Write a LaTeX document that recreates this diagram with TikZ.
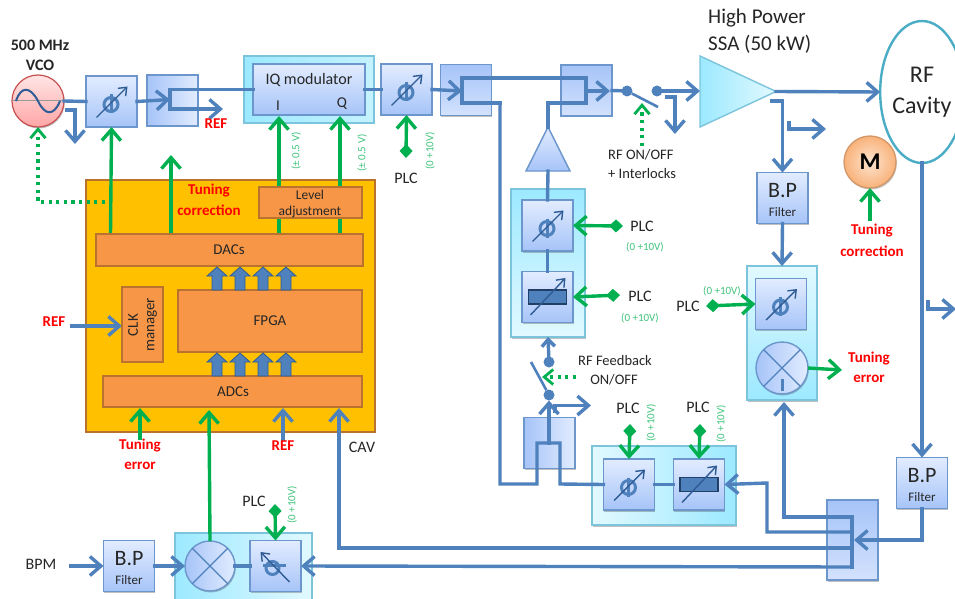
\documentclass[tikz,border=0pt]{standalone}
\usepackage{fontspec}
\setmainfont{Carlito}
\usetikzlibrary{arrows.meta,shadows,calc,shapes.geometric}
\definecolor{lblue}{HTML}{4F81BD}
\definecolor{dblue}{HTML}{2F5C94}
\definecolor{lgreen}{HTML}{00B050}
\definecolor{boxline}{HTML}{6C96CC}
\definecolor{boxlight}{HTML}{E2ECFF}
\definecolor{boxdark}{HTML}{A6C4F8}
\definecolor{panlight}{HTML}{E2F9FF}
\definecolor{pandark}{HTML}{9CE9FF}
\definecolor{panline}{HTML}{7CC4DC}
\definecolor{orgfill}{HTML}{F79646}
\definecolor{orgline}{HTML}{B9732F}
\definecolor{amber}{HTML}{FFC000}
\definecolor{txt}{HTML}{262626}
\definecolor{motin}{HTML}{FCE4CF}
\definecolor{motout}{HTML}{F9B27A}
\newcommand{\fsz}[1]{\fontsize{#1}{#1}\selectfont}
\tikzset{
  softshadow/.style={drop shadow={shadow xshift=0.8pt,shadow yshift=-1.5pt,opacity=.35,fill=black!70}},
  devbox/.style={draw=boxline,line width=1.4pt,minimum width=51pt,minimum height=51pt,inner sep=0pt,outer sep=0pt,
     top color=boxlight,bottom color=boxdark,softshadow},
  cplbox/.style={devbox,top color=boxdark,bottom color=boxlight!75!boxdark},
  sidebox/.style={devbox,left color=boxdark,right color=boxlight},
  panelbox/.style={draw=panline,line width=1.4pt,inner sep=0pt,outer sep=0pt,softshadow},
  orgbox/.style={draw=orgline,fill=orgfill,line width=1.8pt,inner sep=0pt,outer sep=0pt,text=txt,align=center},
  mixer/.style={circle,draw=boxline,line width=1.4pt,inner sep=0pt,outer sep=0pt,left color=boxdark,right color=boxlight,softshadow},
  bline/.style={draw=lblue,line width=3.4pt,line join=miter,line cap=rect},
  barrow/.style={bline,-{Straight Barb[length=11pt,width=19pt]}},
  gline/.style={draw=lgreen,line width=3.4pt},
  garrow/.style={gline,-{Straight Barb[length=11pt,width=19pt]}},
  gplc/.style={gline,{Diamond[length=14pt,width=13pt]}-{Straight Barb[length=11pt,width=19pt]}},
  gdots/.style={draw=lgreen,line width=3.2pt,dash pattern=on 3.2pt off 4.4pt,-{Straight Barb[length=9pt,width=15pt,line width=2.8pt]}},
  swdot/.style={circle,fill=lblue,minimum size=11pt,inner sep=0pt,outer sep=0pt},
  lab/.style={text=txt,inner sep=0pt,font=\fsz{16},align=center},
  smlab/.style={text=txt,inner sep=0pt,font=\fsz{14.5},align=center},
  redlab/.style={text=red,inner sep=0pt,font=\fsz{15}\bfseries,align=center},
  vlab/.style={text=lgreen!75,inner sep=0pt,font=\fsz{11}},
  fp/.style={draw=dblue,line width=1.4pt,-{Straight Barb[length=7pt,width=11pt]}},
  fatup/.style={draw=dblue,fill=lblue,line width=.8pt},
  bpbig/.style={text=txt,inner sep=0pt,font=\fsz{22}},
  bpsmall/.style={text=txt,inner sep=0pt,font=\fsz{13}}
}
\newcommand{\phaseicon}[1]{\begin{scope}[shift={(#1)}]
  \draw[lblue,line width=3pt] (-.5,3) circle [x radius=7,y radius=7];
  \draw[lblue,line width=3pt] (-.5,-7) -- (-.5,12);
  \draw[fp] (-15,16) -- (16,-15);
\end{scope}}
\newcommand{\phaseiconb}[1]{\begin{scope}[shift={(#1)}]
  \draw[lblue,line width=3pt] (-3,2) circle [x radius=6.5,y radius=6.5];
  \draw[lblue,line width=3pt] (-13,-1) -- (10,-1);
  \draw[fp] (14,16) -- (-15,-14);
\end{scope}}
\newcommand{\atticon}[1]{\begin{scope}[shift={(#1)}]
  \draw[draw=dblue!70!black,fill=lblue,line width=1.2pt] (-19,-7) rectangle (19,7);
  \draw[fp] (-17,18) -- (18,-19);
\end{scope}}
\newcommand{\fatarrow}[1]{\begin{scope}[shift={(#1)}]
  \filldraw[fatup] (-5,0) -- (-5,-14) -- (-10,-14) -- (0,-23) -- (10,-14) -- (5,-14) -- (5,0) -- cycle;
\end{scope}}
\begin{document}
\begin{tikzpicture}[x=1pt,y=-1pt]
\useasboundingbox (0,0) rectangle (955,599);
\clip (0,0) rectangle (955,599);
\fill[white] (0,0) rectangle (955,599);

% panels
\node[panelbox,minimum width=130pt,minimum height=67pt,left color=pandark,right color=panlight!60!pandark] (iqpanel) at (309,89.5) {};
\node[panelbox,minimum width=74pt,minimum height=148pt,top color=pandark,bottom color=panlight] (stackpanel) at (548,263) {};
\node[panelbox,minimum width=70pt,minimum height=134pt,top color=panlight,bottom color=pandark] (rightpanel) at (782,333) {};
\node[panelbox,minimum width=144pt,minimum height=79pt,left color=panlight,right color=pandark] (midpanel) at (664,485.5) {};
\node[panelbox,minimum width=137pt,minimum height=75pt,left color=pandark,right color=panlight] (botpanel) at (243.5,570.5) {};

% FPGA carrier
\node[draw=orgline,fill=amber,inner sep=0pt,outer sep=0pt,line width=1.8pt,minimum width=289pt,minimum height=252pt] (carrier) at (230.5,306) {};

% devices
\node[devbox] (ph1) at (111.5,101.5) {};
\node[sidebox] (cp1) at (172.5,100.5) {};
\node[devbox,minimum width=112pt] (iq) at (309,89.5) {};
\node[devbox] (ph2) at (406.5,89.5) {};
\node[cplbox] (cp2) at (466,90) {};
\node[cplbox] (cp3) at (586.5,90.5) {};
\node[devbox] (ph3) at (547.5,225.5) {};
\node[devbox] (att1) at (547.5,297) {};
\node[sidebox] (cp4) at (549.5,443) {};
\node[devbox] (ph4) at (629,484.5) {};
\node[devbox] (att2) at (699,484.5) {};
\node[devbox] (bp1) at (782.5,198) {};
\node[devbox] (ph5) at (781,304) {};
\node[mixer,minimum size=52pt] (mx2) at (782,368) {};
\node[devbox] (bp2) at (922,483) {};
\node[cplbox,minimum height=80pt] (split) at (852.5,540) {};
\node[devbox] (bp3) at (129,566) {};
\node[mixer,minimum size=50pt] (mx1) at (210,566) {};
\node[devbox] (ph6) at (275.5,566) {};
\draw[lblue,line width=1.3pt] (mx1.north west) -- (mx1.south east) (mx1.north east) -- (mx1.south west);
\draw[lblue,line width=1.3pt] (mx2.north west) -- (mx2.center) -- (mx2.north east) (mx2.center) -- (mx2.south west) (mx2.center) -- (mx2.south east);
\draw[lblue,line width=3pt] (mx2.center) ++(0,11) -- ++(0,12);

% amplifiers, cavity, VCO, motor
\draw[draw=panline,line width=1.4pt,left color=pandark,right color=panlight] (700,56) -- (776,91.5) coordinate (ampout) -- (700,127) -- cycle;
\coordinate (ampin) at (700,91);
\draw[draw=boxline,line width=1.4pt,top color=boxlight,bottom color=boxdark] (548,127) coordinate (drvout) -- (570,171) -- (526,171) -- cycle;
\coordinate (drvin) at (548,171);
\node[ellipse,draw={rgb,255:red,75;green,172;blue,198},fill=white,line width=2.4pt,minimum width=76pt,minimum height=142pt,inner sep=0pt,outer sep=0pt,text=txt,font=\fsz{24},align=center] (cav) at (922,92) {RF\\[7pt]Cavity};
\node[circle,draw=motout!85!black,inner color=motin,outer color=motout,line width=1.3pt,minimum size=52pt,inner sep=0pt,outer sep=0pt,font=\fsz{24}\bfseries,softshadow] (mot) at (870,162) {M};
\node[circle,draw={rgb,255:red,200;green,80;blue,80},line width=1.2pt,top color=red!10,bottom color=red!35,minimum size=52pt,inner sep=0pt,outer sep=0pt,softshadow] (vco) at (38,101) {};
\draw[gray!80,line width=1pt] (vco.west) -- (vco.east);
\draw[dblue,line width=2pt] (16,101) .. controls (21,86) and (30,86) .. (38,101) .. controls (45,116) and (54,116) .. (60,101);

% icons
\phaseicon{ph1.center}
\phaseicon{ph2.center}
\phaseicon{ph3.center}
\phaseicon{ph4.center}
\phaseicon{ph5.center}
\phaseiconb{ph6.center}
\atticon{att1.center}
\atticon{att2.center}

% blue RF path
\coordinate (vcoT) at (67,110);
\coordinate (vcoTe) at (75,144);
\draw[bline] (vco.east) -- (ph1.west);
\draw[barrow] (vcoT) -| (vcoTe);
\draw[barrow] (ph1.east) -- (170,99.5) coordinate (c1);
\draw[bline] (170,109) |- (iq.west);
\coordinate (refT) at (223,109);
\draw[barrow] (170,109) -- (refT);
\draw[bline] (iq.east) -- (ph2.west);
\draw[barrow] (ph2.east) -- (462,91);
\draw[bline] (500,103) -- (462,103) -- (462,78) -- (586,78) -- (586,103) -- (548,103) -- (drvout);
\draw[bline] (500,103) -- (500,484) -- (537,484) -- (537,443) -- (560,443) -- (560,484) -- (ph4.west);
\draw[barrow] (586,91) -- (610,91);
\coordinate (swa) at (627,91);
\coordinate (swb) at (657,91);
\node[swdot] (s1a) at (swa) {};
\node[swdot] (s1b) at (swb) {};
\draw[bline] (cp3.east) -- (s1a);
\draw[draw=lblue,line width=2.6pt] (s1a) -- (658,107);
\draw[barrow] (s1b) -- (ampin);
\coordinate (sT) at (667,97);
\draw[barrow] (sT) -| (675,134);
\draw[barrow] (ampout) -- (cav.west);
\draw[barrow] (772,101) -| (bp1.north);
\coordinate (sA) at (789,123);
\draw[barrow] (sA) |- (826,129);
\draw[barrow] (bp1.south) -- (rightpanel.north);
\draw[bline] (drvin) -- (ph3.north);
\draw[bline] (ph3.south) -- (att1.north);
\draw[bline] (ph4.east) -- (att2.west);
\draw[barrow] (cav.south) -- (bp2.north);
\draw[barrow] (928,302) |- (956,309);

% switch 2 + coupler
\node[swdot] (s2a) at (549,362) {};
\node[swdot] (s2b) at (549,395) {};
\draw[barrow,-{Straight Barb[length=7pt,width=13pt]}] (s2a) -- (stackpanel.south);
\draw[draw=lblue,line width=2.6pt] (s2b) -- (531,362);
\draw[barrow] (549,443) -- (s2b);
\draw[barrow] (555,411) |- (591,405.5);

% splitter network
\draw[bline] (852,517) -- (852,567);
\draw[barrow] (852,517) -- (784,517) -- (784,402);
\draw[barrow] (852,532) -- (767,532) -- (767,483) -- (att2.east);
\draw[barrow] (852,548) -- (339,548) -- (339,408);
\draw[barrow] (852,567) -- (ph6.east);
\draw[barrow] (bp2.south) |- (854,540);
\draw[barrow] (71,566) coordinate (bpm) -- (bp3.west);
\draw[barrow] (bp3.east) -- (mx1.west);
\draw[bline] (mx1.east) -- (ph6.west);

% green signals
\draw[garrow] (110.5,234) -- (ph1.south);
\draw[garrow] (171,234) -- (171,155);
\draw[garrow] (279,234) -- (279,116);
\draw[garrow] (340,234) -- (340,116);
\draw[gplc] (406,158) -- (ph2.south);
\draw[gdots] (105,202) -| (vco.south);
\draw[gdots] (642,146) -- (642,103);
\draw[gdots] (576,377) -- (542,377);
\draw[gplc] (623,226) -- (ph3.east);
\draw[gplc] (620,295) -- (att1.east);
\draw[gplc] (706,306) -- (ph5.west);
\draw[gplc] (630,424) -- (ph4.north);
\draw[gplc] (700,424) -- (att2.north);
\draw[gplc] (275,504) -- (ph6.north);
\draw[garrow] (mx1.north) -- (209,410);
\draw[garrow] (mx2.east) -- (842,370);
\draw[garrow] (870,221) -- (mot.south);
\draw[garrow] (140,440) -- (140,408);
\draw[barrow] (72,326) -- (122,326);
\draw[barrow] (283,439) -- (283,408);

% FPGA blocks
\node[orgbox,minimum width=267pt,minimum height=32pt] (dacs) at (229.5,250) {};
\node[orgbox,minimum width=103pt,minimum height=31pt] (lvl) at (310.5,202.5) {};
\node[orgbox,minimum width=184pt,minimum height=62pt] (fpga) at (270,321) {};
\node[orgbox,minimum width=41pt,minimum height=75pt] (clk) at (142.5,324.5) {};
\node[orgbox,minimum width=259pt,minimum height=31pt] (adcs) at (232.5,391.5) {};
\foreach \ax in {217,240,263,286} {\fatarrow{\ax,290}\fatarrow{\ax,376}}

% texts
\node[text=txt,inner sep=0pt,font=\fsz{16}\bfseries] (tvco1) at (40,45) {500 MHz};
\node[text=txt,inner sep=0pt,font=\fsz{16}\bfseries] (tvco2) at (40,65) {VCO};
\node[redlab] (tref1) at (216,124) {REF};
\node[lab] (tiq) at (309,80.5) {IQ modulator};
\node[lab,font=\fsz{15}] (ti) at (278,106) {I};
\node[lab,font=\fsz{15}] (tq) at (342,104) {Q};
\node[vlab,rotate=90] (tv1) at (296,151) {(± 0.5 V)};
\node[vlab,rotate=90] (tv2) at (362,153) {(± 0.5 V)};
\node[vlab,rotate=90] (tv3) at (430,151) {(0 +10V)};
\node[lab] (tplc1) at (406,178) {PLC};
\node[redlab] (ttc1) at (209,191) {Tuning};
\node[redlab] (ttc2) at (209,210) {correction};
\node[lab,font=\fsz{13.5}] (tl1) at (310,195) {Level};
\node[lab,font=\fsz{13.5}] (tl2) at (310,212) {adjustment};
\node[lab,font=\fsz{15}] (tdac) at (229,250) {DACs};
\node[lab,font=\fsz{15}] (tfpga) at (270,321) {FPGA};
\node[lab,font=\fsz{15},rotate=90] (tclk) at (133,325) {CLK};
\node[lab,font=\fsz{15},rotate=90] (tman) at (152,325) {manager};
\node[lab,font=\fsz{15}] (tadc) at (233,392) {ADCs};
\node[redlab] (tref2) at (54,322) {REF};
\node[redlab] (tte1) at (140,446) {Tuning};
\node[redlab] (tte2) at (140,466) {error};
\node[redlab] (tref3) at (283,446) {REF};
\node[lab] (tcav) at (362,447) {CAV};
\node[lab] (tbpm) at (41,564) {BPM};
\node[lab] (tplc2) at (254,501) {PLC};
\node[vlab,rotate=90] (tv4) at (292,505) {(0 +10V)};
\node[text=txt,inner sep=0pt,font=\fsz{21},anchor=west] (thp) at (708,18) {High Power};
\node[text=txt,inner sep=0pt,font=\fsz{21},anchor=west] (tssa) at (708,44) {SSA (50 kW)};
\node[redlab] (ttc3) at (872,231) {Tuning};
\node[redlab] (ttc4) at (872,251) {correction};
\node[smlab,anchor=west] (ton1) at (608,155) {RF ON/OFF};
\node[smlab,anchor=west] (ton2) at (608,174) {+ Interlocks};
\node[lab] (tplc3) at (642,226) {PLC};
\node[vlab] (tv5) at (645,247) {(0 +10V)};
\node[lab] (tplc4) at (640,296) {PLC};
\node[vlab] (tv6) at (640,318) {(0 +10V)};
\node[lab] (tplc5) at (688,306) {PLC};
\node[vlab] (tv7) at (722,291) {(0 +10V)};
\node[redlab] (tte3) at (869,359) {Tuning};
\node[redlab] (tte4) at (869,379) {error};
\node[smlab] (tfb1) at (615,361) {RF Feedback};
\node[smlab] (tfb2) at (614,380) {ON/OFF};
\node[lab] (tplc6) at (628,408) {PLC};
\node[vlab,rotate=90] (tv8) at (651,423) {(0 +10V)};
\node[lab] (tplc7) at (698,407) {PLC};
\node[vlab,rotate=90] (tv9) at (721,424) {(0 +10V)};
\foreach \nm/\cx/\cy in {a/782.5/198,b/922/483,c/129/566}{
  \node[bpbig] (bpt\nm) at (\cx,\cy-7) {B.P};
  \node[bpsmall] (bpf\nm) at (\cx,\cy+14) {Filter};
}
\end{tikzpicture}
\end{document}
